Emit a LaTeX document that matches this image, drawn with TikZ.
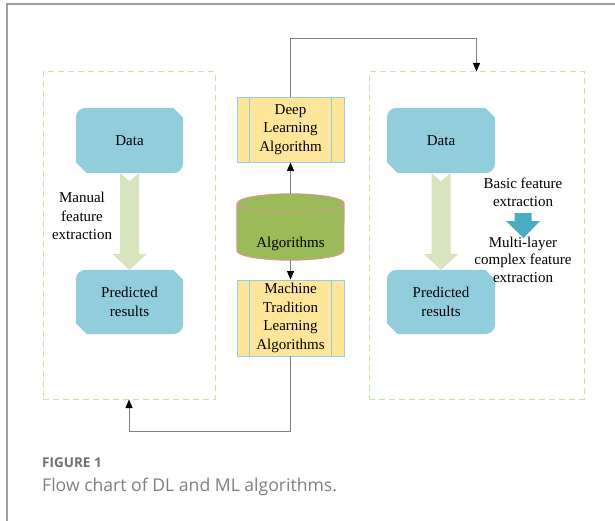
\documentclass[tikz,border=0pt]{standalone}
\usepackage{fontspec}
\setmainfont{Liberation Serif}
\newfontfamily\capfont{Open Sans}
\usetikzlibrary{arrows.meta,calc,backgrounds}

\definecolor{dataaqua}{RGB}{146,205,220}
\definecolor{featgreen}{RGB}{215,228,189}
\definecolor{boxgreen}{RGB}{196,230,160}
\definecolor{procfill}{RGB}{255,229,153}
\definecolor{procedge}{RGB}{140,208,228}
\definecolor{cylfill}{RGB}{155,187,89}
\definecolor{cyledge}{RGB}{217,150,148}
\definecolor{deepaqua}{RGB}{75,172,198}
\definecolor{linkgray}{RGB}{128,128,128}
\definecolor{framegray}{RGB}{160,160,160}
\definecolor{capgray}{RGB}{112,112,112}

\newcommand\labelfont{\fontsize{15}{18.5}\selectfont}

% teal box: rounded top-left / bottom-right, snipped top-right / bottom-left
\newcommand\snipbox[1]{%
  \fill[dataaqua] ($(#1.south west)+(0,-11)$) -- ($(#1.north west)+(0,10)$)
    arc[start angle=180,end angle=90,radius=10pt]
    -- ($(#1.north east)+(-10,0)$) -- ($(#1.north east)+(0,10)$)
    -- ($(#1.south east)+(0,-10)$)
    arc[start angle=0,end angle=-90,radius=10pt]
    -- ($(#1.south west)+(11,0)$) -- cycle;}

% wide notched block arrow from one node down to another
\newcommand\blockdown[2]{%
  \fill[featgreen] ($(#1.south)+(-9.5,0)$) -- ($(#1.south)+(0,8)$) -- ($(#1.south)+(9.5,0)$)
    -- ($(#2.north)+(9.5,-16)$) -- ($(#2.north)+(17.5,-16)$) -- (#2.north)
    -- ($(#2.north)+(-17.5,-16)$) -- ($(#2.north)+(-9.5,-16)$) -- cycle;}

% side bars of a predefined-process box
\newcommand\procbars[1]{%
  \draw[procedge, line width=0.8pt] ($(#1.north west)+(13,0)$) -- ($(#1.south west)+(13,0)$);
  \draw[procedge, line width=0.8pt] ($(#1.north east)+(-13,0)$) -- ($(#1.south east)+(-13,0)$);}

\begin{document}
\begin{tikzpicture}[x=1pt,y=-1pt,
  txt/.style={inner sep=0pt, align=center, font=\labelfont},
  databox/.style={txt, minimum width=107pt, minimum height=65pt},
  procbox/.style={txt, draw=procedge, fill=procfill, line width=0.8pt, minimum width=107pt},
  groupbox/.style={draw=boxgreen, line width=1pt, dash pattern=on 6pt off 4pt, inner sep=0pt},
  link/.style={draw=linkgray, line width=1pt},
  tip/.style={-{Triangle[width=7pt,length=8.5pt,color=black]}}]
\useasboundingbox (0,0) rectangle (615,521);

% frame
\draw[framegray, line width=1.1pt] (615,4) -- (7,4) -- (7,521);

% dashed group boxes
\node[groupbox, minimum width=172pt, minimum height=327pt] (leftbox) at (129,235.5) {};
\node[groupbox, minimum width=215pt, minimum height=327pt] (rightbox) at (476.5,235.5) {};

% left column
\node[databox] (dataL) at (129.5,140.5) {Data};
\node[databox, minimum height=64pt] (predL) at (129.5,302) {Predicted\\results};
\node[txt] (manual) at (82,216) {Manual\\feature\\extraction};

% right column
\node[databox, minimum width=108pt] (dataR) at (441,140.5) {Data};
\node[databox, minimum width=108pt, minimum height=64pt] (predR) at (441,302) {Predicted\\results};
\node[txt, font=\fontsize{15}{18}\selectfont] (basic) at (523,192.5) {Basic feature\\extraction};
\node[txt, font=\fontsize{15}{17.5}\selectfont] (multi) at (523,259.5) {Multi-layer\\complex feature\\extraction};

% centre column
\node[procbox, minimum height=65pt] (dl) at (290.5,129.5) {Deep\\Learning\\Algorithm};
\node[txt, minimum width=107pt, minimum height=66pt] (alg) at (290.5,227) {};
\node[procbox, minimum height=76pt] (ml) at (290.5,318) {Machine\\Tradition\\Learning\\Algorithms};
\procbars{dl}
\procbars{ml}

% database cylinder
\fill[cylfill] ($(alg.north west)+(0,9.5)$) -- ($(alg.south west)+(0,-9.5)$)
  arc[start angle=180,end angle=360,x radius=53.5pt,y radius=9.5pt]
  -- ($(alg.north east)+(0,9.5)$)
  arc[start angle=0,end angle=180,x radius=53.5pt,y radius=9.5pt] -- cycle;
\draw[cyledge, line width=0.9pt] ($(alg.north west)+(0,9.5)$) -- ($(alg.south west)+(0,-9.5)$)
  arc[start angle=180,end angle=360,x radius=53.5pt,y radius=9.5pt]
  -- ($(alg.north east)+(0,9.5)$)
  arc[start angle=0,end angle=360,x radius=53.5pt,y radius=9.5pt];
\node[txt] at ($(alg.center)+(0,17)$) {Algorithms};

% shapes behind the labels
\begin{scope}[on background layer]
  \snipbox{dataL}
  \snipbox{predL}
  \snipbox{dataR}
  \snipbox{predR}
  \blockdown{dataL}{predL}
  \blockdown{dataR}{predR}
\end{scope}

% basic -> multi-layer block arrow
\fill[deepaqua] ($(basic.south)+(-8.5,6)$) -- ($(basic.south)+(8.5,6)$) -- ($(basic.south)+(8.5,14)$)
  -- ($(basic.south)+(17,14)$) -- ($(basic.south)+(0.5,31)$) -- ($(basic.south)+(-17,14)$)
  -- ($(basic.south)+(-8.5,14)$) -- cycle;

% connectors
\draw[link, tip] (alg.north) -- (dl.south);
\draw[link, tip] (alg.south) -- (ml.north);
\draw[link, tip] (dl.north) -- (dl.north |- 0,39) -| (rightbox.north);
\draw[link, tip] (ml.south) -- (ml.south |- 0,431) -| (leftbox.south);

% caption
\node[anchor=base west, inner sep=0pt, text=capgray, font=\capfont\bfseries\fontsize{13.5}{16}\selectfont] (figno) at (42,467) {FIGURE 1};
\node[anchor=base west, inner sep=0pt, text=capgray!90, font=\capfont\fontsize{17.6}{21}\selectfont] (figcap) at (42,491) {Flow chart of DL and ML algorithms.};
\end{tikzpicture}
\end{document}
